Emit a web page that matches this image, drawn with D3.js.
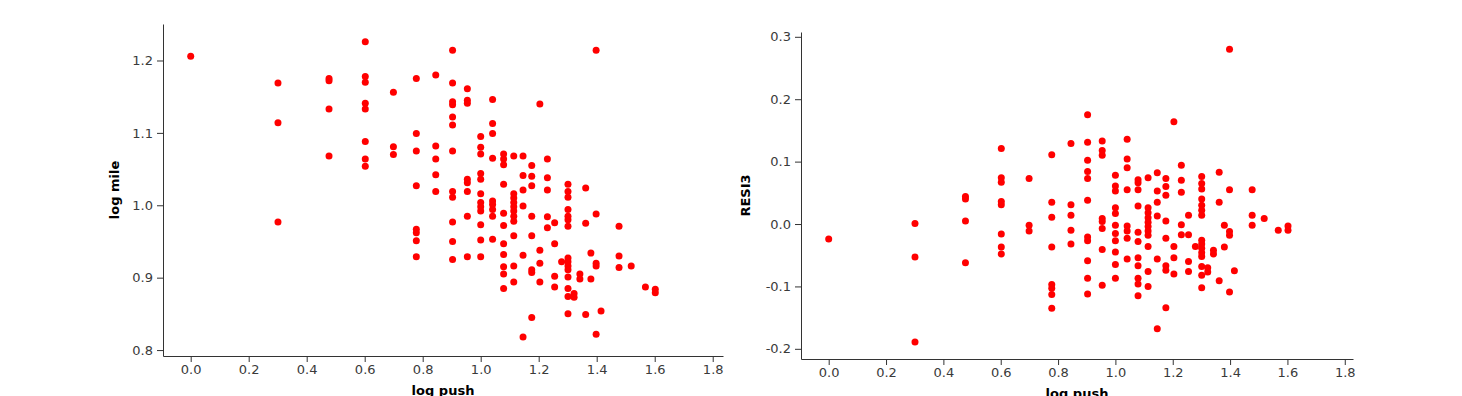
<!DOCTYPE html>
<html>
<head>
  <meta charset="utf-8">
  <title>log mile and RESI3 vs log push</title>
  <script src="https://d3js.org/d3.v7.min.js"></script>
  <style>
    body { margin: 0; background: #fff; }
    .axis text { font-family: "DejaVu Sans", Verdana, sans-serif; font-size: 13px; fill: #3a3a3a; }
    .axis path, .axis line { stroke: #333; }
    .title { font-family: "DejaVu Sans", Verdana, sans-serif; font-weight: bold; font-size: 13px; fill: #000; }
  </style>
</head>
<body>
<div id="chart"></div>
<script>

// distinct log push values (x), shared by both panels
var pushLevels = [0, 0.301, 0.477, 0.602, 0.699, 0.778, 0.845, 0.903, 0.954, 1.000,
                  1.041, 1.079, 1.114, 1.146, 1.176, 1.204, 1.230, 1.255, 1.279, 1.301,
                  1.322, 1.342, 1.362, 1.380, 1.398, 1.415, 1.477, 1.519, 1.568, 1.602];

// log mile values at each log push level (left panel)
var mileGroups = [
  [1.206],
  [1.169, 1.114, 0.977],
  [1.175, 1.172, 1.133, 1.068],
  [1.226, 1.178, 1.170, 1.141, 1.133, 1.088, 1.064, 1.054],
  [1.156, 1.081, 1.070],
  [1.175, 1.099, 1.075, 1.027, 0.967, 0.962, 0.951, 0.929],
  [1.180, 1.082, 1.064, 1.042, 1.019],
  [1.214, 1.169, 1.143, 1.139, 1.122, 1.111, 1.075, 1.019, 1.011, 0.977, 0.950, 0.925],
  [1.161, 1.145, 1.141, 1.036, 1.031, 1.019, 0.985, 0.929],
  [1.095, 1.080, 1.071, 1.044, 1.036, 1.016, 1.004, 0.998, 0.992, 0.973, 0.952, 0.929],
  [1.146, 1.113, 1.099, 1.065, 1.006, 1.001, 0.994, 0.985, 0.953],
  [1.071, 1.064, 1.056, 1.029, 0.989, 0.972, 0.947, 0.932, 0.915, 0.905, 0.885],
  [1.068, 1.016, 1.010, 1.004, 0.998, 0.992, 0.985, 0.978, 0.958, 0.916, 0.894],
  [1.068, 1.041, 1.021, 0.999, 0.931, 0.818],
  [1.055, 1.040, 1.027, 0.985, 0.958, 0.911, 0.907, 0.845],
  [1.140, 0.938, 0.920, 0.894],
  [1.064, 1.038, 1.021, 0.984, 0.969],
  [0.976, 0.947, 0.902, 0.887],
  [0.922],
  [1.029, 1.019, 1.011, 0.994, 0.985, 0.980, 0.971, 0.927, 0.922, 0.916, 0.911, 0.901, 0.885, 0.874, 0.850],
  [0.878, 0.873],
  [0.905, 0.898],
  [1.024, 0.975, 0.849],
  [0.934, 0.898],
  [1.214, 0.988, 0.920, 0.916, 0.822],
  [0.854],
  [0.971, 0.930, 0.914],
  [0.916],
  [0.887],
  [0.884, 0.879]
];

// RESI3 values at each log push level (right panel)
var resiGroups = [
  [-0.024],
  [0.001, -0.053, -0.189],
  [0.044, 0.040, 0.005, -0.062],
  [0.121, 0.074, 0.067, 0.036, 0.031, -0.016, -0.037, -0.048],
  [0.073, -0.002, -0.011],
  [0.111, 0.035, 0.011, -0.037, -0.097, -0.103, -0.113, -0.135],
  [0.129, 0.031, 0.014, -0.010, -0.032],
  [0.175, 0.131, 0.102, 0.084, 0.073, 0.038, -0.021, -0.027, -0.059, -0.087, -0.112],
  [0.133, 0.118, 0.110, 0.009, 0.004, -0.007, -0.041, -0.098],
  [0.078, 0.061, 0.053, 0.026, 0.017, -0.002, -0.015, -0.027, -0.045, -0.065, -0.087],
  [0.136, 0.104, 0.090, 0.055, -0.003, -0.011, -0.023, -0.056],
  [0.071, 0.066, 0.055, 0.029, -0.013, -0.028, -0.054, -0.067, -0.087, -0.096, -0.115],
  [0.074, 0.026, 0.018, 0.010, 0.003, -0.004, -0.011, -0.018, -0.036, -0.076, -0.100],
  [0.082, 0.053, 0.035, 0.013, -0.056, -0.168],
  [0.073, 0.060, 0.046, 0.005, -0.023, -0.067, -0.074, -0.134],
  [0.164, -0.036, -0.054, -0.080],
  [0.094, 0.070, 0.051, -0.001, -0.017],
  [0.014, -0.017, -0.060, -0.076],
  [-0.036],
  [0.076, 0.065, 0.056, 0.040, 0.030, 0.022, 0.014, -0.026, -0.032, -0.039, -0.046, -0.052, -0.068, -0.082, -0.102],
  [-0.070, -0.077],
  [-0.042, -0.048],
  [0.083, 0.035, -0.091],
  [-0.002, -0.037],
  [0.280, 0.055, -0.012, -0.018, -0.109],
  [-0.075],
  [0.055, 0.014, -0.002],
  [0.009],
  [-0.010],
  [-0.003, -0.010]
];

// tick values
var pushTicks = [0, 0.2, 0.4, 0.6, 0.8, 1.0, 1.2, 1.4, 1.6, 1.8];
var mileTicks = [0.8, 0.9, 1.0, 1.1, 1.2];
var resiTicks = [-0.2, -0.1, 0.0, 0.1, 0.2, 0.3];

var svg = d3.select("#chart")
  .append("svg")
    .attr("width", 1462)
    .attr("height", 396);

// turn the grouped values into points
function toPoints(groups) {
  var pts = [];
  groups.forEach(function(g, i) {
    g.forEach(function(v) { pts.push({x: pushLevels[i], y: v}); });
  });
  return pts;
}

function drawPanel(p) {
  var x = d3.scaleLinear().domain(p.xDomain).range([p.left, p.right]);
  var y = d3.scaleLinear().domain(p.yDomain).range([p.bottom, p.top]);

  // X axis
  svg.append("g")
    .attr("class", "axis")
    .attr("transform", "translate(0," + p.bottom + ")")
    .call(d3.axisBottom(x).tickValues(pushTicks).tickSizeOuter(0)
      .tickFormat(function(d) { return d.toFixed(1); }));

  // Y axis
  svg.append("g")
    .attr("class", "axis")
    .attr("transform", "translate(" + p.left + ",0)")
    .call(d3.axisLeft(y).tickValues(p.yTicks).tickSizeOuter(0).tickPadding(4)
      .tickFormat(function(d) { return d.toFixed(1); }));

  // axis titles (the x title is clipped by the bottom edge, as in the original)
  svg.append("text")
    .attr("class", "title")
    .attr("transform", "translate(" + p.yTitleX + "," + ((p.top + p.bottom) / 2) + ") rotate(-90)")
    .style("text-anchor", "middle")
    .text(p.yTitle);

  svg.append("text")
    .attr("class", "title")
    .attr("x", (p.left + p.right) / 2)
    .attr("y", p.bottom + 39)
    .style("text-anchor", "middle")
    .text("log push");

  // dots
  svg.append("g")
    .selectAll("circle")
    .data(toPoints(p.groups))
    .enter()
    .append("circle")
      .attr("cx", function(d) { return x(d.x); })
      .attr("cy", function(d) { return y(d.y); })
      .attr("r", 3.5)
      .style("fill", "#ff0000");
}

drawPanel({
  left: 163, right: 723, top: 24, bottom: 356,
  xDomain: [-0.0955, 1.8355], yDomain: [0.7918, 1.2504],
  yTicks: mileTicks, yTitle: "log mile", yTitleX: 118.5,
  groups: mileGroups
});

drawPanel({
  left: 801, right: 1353, top: 32, bottom: 359,
  xDomain: [-0.0966, 1.8287], yDomain: [-0.2163, 0.3077],
  yTicks: resiTicks, yTitle: "RESI3", yTitleX: 750,
  groups: resiGroups
});

</script>
</body>
</html>
